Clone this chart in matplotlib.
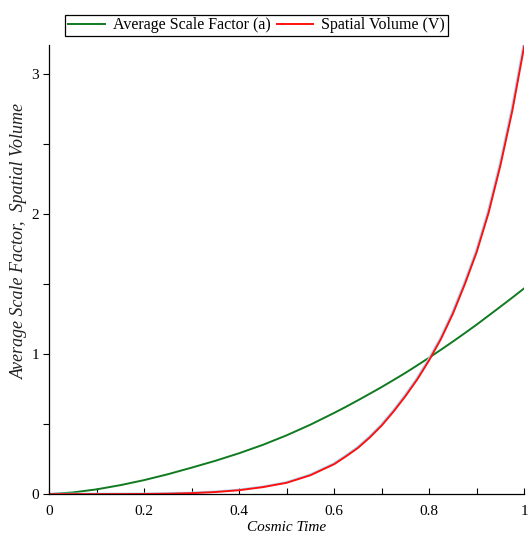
import matplotlib
matplotlib.use('Agg')
import matplotlib.pyplot as plt
from matplotlib.ticker import MultipleLocator
import matplotlib.transforms as mtransforms

# cosmic time samples (denser where the volume curve steepens)
t = [0.0, 0.05, 0.1, 0.15, 0.2, 0.25, 0.3, 0.35, 0.4, 0.45, 0.5, 0.55, 0.6,
     0.625, 0.65, 0.675, 0.7, 0.725, 0.75, 0.775, 0.8, 0.825, 0.85, 0.875,
     0.9, 0.925, 0.95, 0.975, 1.0]

# average scale factor a(t)
scale_factor = [0.0, 0.012, 0.034, 0.064, 0.100, 0.142, 0.189, 0.238, 0.292, 0.352, 0.420, 0.496, 0.580,
                0.624, 0.670, 0.717, 0.765, 0.815, 0.866, 0.920, 0.975, 1.032, 1.090, 1.150,
                1.211, 1.275, 1.339, 1.404, 1.470]

# spatial volume V(t)
volume = [0.0, 0.0, 0.0001, 0.0003, 0.001, 0.003, 0.007, 0.015, 0.028, 0.050, 0.081, 0.135, 0.214,
          0.27, 0.33, 0.405, 0.49, 0.59, 0.70, 0.82, 0.957, 1.11, 1.29, 1.50,
          1.73, 2.01, 2.35, 2.74, 3.20]

plt.rcParams['font.family'] = ['Liberation Serif', 'DejaVu Serif']
plt.rcParams['font.size'] = 11

fig = plt.figure(figsize=(5.31, 5.43), dpi=100)
ax = fig.add_axes([0.0923, 0.090, 0.895, 0.827])

ax.plot(t, scale_factor, color='#0f7a1f', lw=1.4, label='Average Scale Factor (a)')
# faint halo under the volume curve
halo = mtransforms.offset_copy(ax.transData, fig=fig, x=-1.0, y=0.5, units='dots')
ax.plot(t, volume, color='#a9d9f2', lw=1.4, transform=halo)
ax.plot(t, volume, color='#ff1010', lw=1.4, label='Spatial Volume (V)')

ax.set_xlim(0, 1)
ax.set_ylim(0, 3.207)

for s in ['top', 'right']:
    ax.spines[s].set_visible(False)
for s in ['left', 'bottom']:
    ax.spines[s].set_linewidth(0.9)

ax.xaxis.set_major_locator(MultipleLocator(0.2))
ax.xaxis.set_minor_locator(MultipleLocator(0.1))
ax.yaxis.set_major_locator(MultipleLocator(1))
ax.yaxis.set_minor_locator(MultipleLocator(0.5))
ax.set_xticks([0, 0.2, 0.4, 0.6, 0.8, 1.0])
ax.set_xticklabels(['0', '0.2', '0.4', '0.6', '0.8', '1'])
ax.tick_params(axis='x', which='both', direction='in', length=4, width=0.8, pad=8)
ax.tick_params(axis='y', which='both', direction='out', length=4, width=0.8, pad=3)

ax.set_xlabel('Cosmic Time', style='italic', labelpad=2)
ax.set_ylabel('Average Scale Factor,  Spatial Volume', style='italic', fontsize=13,
              color='#222222')
ax.yaxis.set_label_coords(-0.045, 0.563)

leg = fig.legend(loc='upper center', bbox_to_anchor=(0.483, 0.987), ncol=2,
                 frameon=True, fancybox=False, edgecolor='black', framealpha=1,
                 handlelength=2.3, handletextpad=0.5, columnspacing=0.4,
                 borderpad=0.15, fontsize=11.5)
leg.get_frame().set_linewidth(0.9)

fig.savefig('out.png', dpi=100)
